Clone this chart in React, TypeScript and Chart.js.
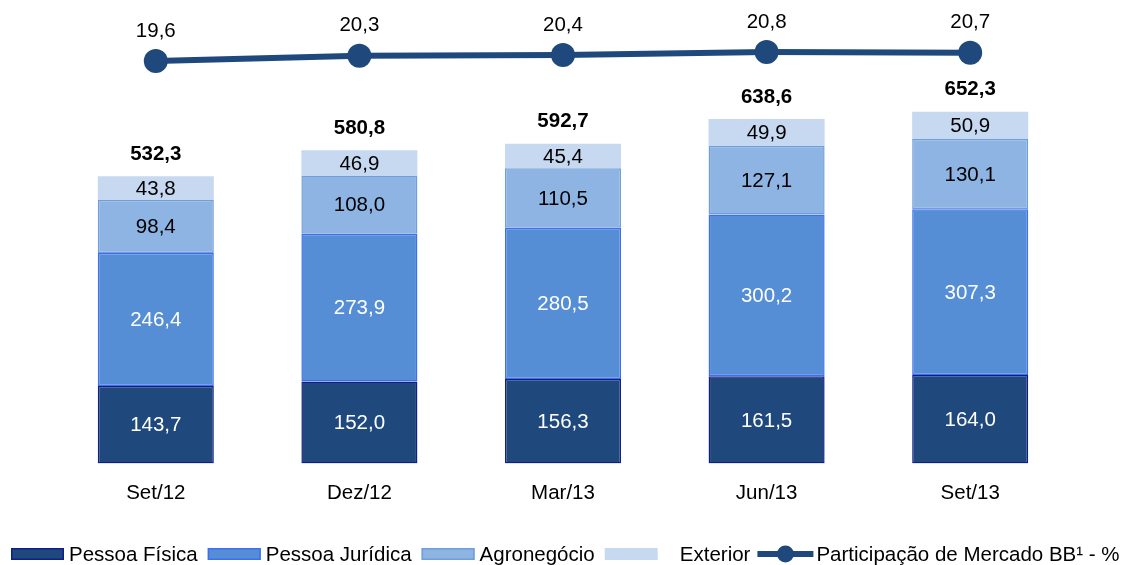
import React, { useEffect, useRef } from "react";
import { Chart, registerables } from "chart.js";

Chart.register(...registerables);

const CATEGORIES = ["Set/12", "Dez/12", "Mar/13", "Jun/13", "Set/13"];
const PESSOA_FISICA = [143.7, 152.0, 156.3, 161.5, 164.0];
const PESSOA_JURIDICA = [246.4, 273.9, 280.5, 300.2, 307.3];
const AGRONEGOCIO = [98.4, 108.0, 110.5, 127.1, 130.1];
const EXTERIOR = [43.8, 46.9, 45.4, 49.9, 50.9];
const TOTALS = [532.3, 580.8, 592.7, 638.6, 652.3];
const MARKET_SHARE = [19.6, 20.3, 20.4, 20.8, 20.7];

const FONT = "'Liberation Sans', Arial, sans-serif";
const FS = 20.5;
const fmt = (v: number) => v.toFixed(1).replace(".", ",");

const labelsPlugin = {
  id: "customLabels",
  afterDatasetsDraw(chart: any) {
    const ctx = chart.ctx;
    ctx.save();
    ctx.textAlign = "center";
    ctx.textBaseline = "middle";
    chart.data.datasets.forEach((ds: any, di: number) => {
      const meta = chart.getDatasetMeta(di);
      if (ds.type === "line") {
        ctx.font = `${FS}px ${FONT}`;
        ctx.fillStyle = "#000";
        meta.data.forEach((pt: any, i: number) => {
          ctx.fillText(fmt(ds.data[i]), pt.x, pt.y - 30);
        });
      } else {
        ctx.font = `${FS}px ${FONT}`;
        ctx.fillStyle = ds.labelColor;
        meta.data.forEach((bar: any, i: number) => {
          const cy = (bar.y + bar.base) / 2;
          ctx.fillText(fmt(ds.data[i]), bar.x, cy + 1);
        });
      }
    });
    const topMeta = chart.getDatasetMeta(3);
    ctx.font = `bold ${FS}px ${FONT}`;
    ctx.fillStyle = "#000";
    topMeta.data.forEach((bar: any, i: number) => {
      ctx.fillText(fmt(TOTALS[i]), bar.x, bar.y - 22);
    });
    ctx.restore();
  },
  afterDraw(chart: any) {
    const ctx = chart.ctx;
    ctx.save();
    ctx.font = `${FS}px ${FONT}`;
    ctx.textBaseline = "middle";
    ctx.textAlign = "left";
    const cy = 554;
    let x = 11;
    chart.data.datasets.forEach((ds: any) => {
      if (ds.type === "line") {
        ctx.strokeStyle = ds.borderColor;
        ctx.lineWidth = 6;
        ctx.beginPath();
        ctx.moveTo(x, cy);
        ctx.lineTo(x + 56, cy);
        ctx.stroke();
        ctx.fillStyle = ds.borderColor;
        ctx.beginPath();
        ctx.arc(x + 28, cy, 8.5, 0, Math.PI * 2);
        ctx.fill();
        x += 59;
      } else {
        ctx.fillStyle = ds.backgroundColor;
        ctx.fillRect(x, cy - 6, 53, 12);
        if (ds.borderWidth > 0) {
          ctx.strokeStyle = ds.borderColor;
          ctx.lineWidth = 1.5;
          ctx.strokeRect(x + 0.75, cy - 5.25, 51.5, 10.5);
        }
        x += 58;
      }
      ctx.fillStyle = "#000";
      ctx.fillText(ds.label, x, cy + 1);
      x += ctx.measureText(ds.label).width + (ds.label.startsWith(" ") ? 7 : 10);
    });
    ctx.restore();
  },
};

export default function App() {
  const ref = useRef<HTMLCanvasElement>(null);
  useEffect(() => {
    if (!ref.current) return;
    const common = { barPercentage: 0.57, categoryPercentage: 1, stack: "s", order: 2 };
    const chart = new Chart(ref.current, {
      type: "bar",
      data: {
        labels: CATEGORIES,
        datasets: [
          {
            type: "bar",
            label: "Pessoa Física",
            data: PESSOA_FISICA,
            backgroundColor: "#1F497D",
            borderColor: "#101E8A",
            borderWidth: 1.5,
            borderSkipped: false,
            labelColor: "#FFFFFF",
            ...common,
          } as any,
          {
            type: "bar",
            label: "Pessoa Jurídica",
            data: PESSOA_JURIDICA,
            backgroundColor: "#558ED5",
            borderColor: "#3D6EF5",
            borderWidth: 1.5,
            borderSkipped: false,
            labelColor: "#FFFFFF",
            ...common,
          } as any,
          {
            type: "bar",
            label: "Agronegócio",
            data: AGRONEGOCIO,
            backgroundColor: "#8EB4E3",
            borderColor: "#6E9EDB",
            borderWidth: 1.5,
            borderSkipped: false,
            labelColor: "#000000",
            ...common,
          } as any,
          {
            type: "bar",
            label: "   Exterior",
            data: EXTERIOR,
            backgroundColor: "#C6D9F1",
            borderColor: "#C6D9F1",
            borderWidth: 0,
            labelColor: "#000000",
            ...common,
          } as any,
          {
            type: "line",
            label: "Participação de Mercado BB¹ - %",
            data: MARKET_SHARE,
            yAxisID: "y1",
            borderColor: "#1F497D",
            backgroundColor: "#1F497D",
            borderWidth: 6,
            pointRadius: 12,
            pointBackgroundColor: "#1F497D",
            pointBorderWidth: 0,
            tension: 0,
            order: 1,
          } as any,
        ],
      },
      options: {
        responsive: false,
        animation: false,
        layout: { padding: { left: 54, right: 64, top: 32, bottom: 41 } },
        plugins: {
          legend: { display: false },
          tooltip: { enabled: false },
          title: { display: false },
        },
        scales: {
          x: {
            stacked: true,
            grid: { display: false, drawTicks: false },
            border: { display: false },
            ticks: {
              color: "#000",
              padding: 18,
              font: { family: FONT, size: FS },
              maxRotation: 0,
            },
          },
          y: {
            stacked: true,
            display: false,
            min: 0,
            max: 800,
          },
          y1: {
            display: false,
            min: -33.93,
            max: 23.47,
          },
        },
      } as any,
      plugins: [labelsPlugin],
    });
    return () => chart.destroy();
  }, []);
  return (
    <div style={{ position: "absolute", left: 0, top: 0, width: 1136, height: 565, background: "#fff" }}>
      <canvas ref={ref} width={1136} height={565} />
    </div>
  );
}
